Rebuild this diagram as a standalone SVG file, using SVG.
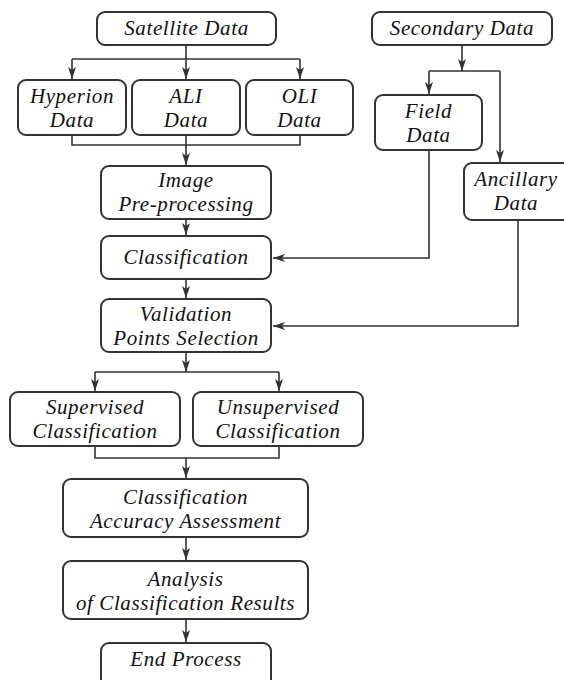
<svg xmlns="http://www.w3.org/2000/svg" width="564" height="680" viewBox="0 0 564 680">
<style>
.box{fill:#fff;stroke:#333;stroke-width:2}
.t{font-family:'Liberation Serif','Times New Roman',serif;font-style:italic;font-size:21px;letter-spacing:0.6px;fill:#111;text-anchor:middle}
.c{fill:none;stroke:#333;stroke-width:1.6}
</style>
<defs>
<marker id="a" markerUnits="userSpaceOnUse" markerWidth="14" markerHeight="10" refX="12" refY="5" orient="auto">
<path d="M0,1 L12,5 L0,9 L3,5 z" fill="#333"/>
</marker>
</defs>
<rect width="564" height="680" fill="#fff"/>
<g id="connectors">
<path class="c" d="M186,45 V79" marker-end="url(#a)"/>
<path class="c" d="M72,59 H300"/>
<path class="c" d="M72,59 V79" marker-end="url(#a)"/>
<path class="c" d="M300,59 V79" marker-end="url(#a)"/>
<path class="c" d="M72,135 V145 H300 V135"/>
<path class="c" d="M186,135 V165" marker-end="url(#a)"/>
<path class="c" d="M186,219 V235" marker-end="url(#a)"/>
<path class="c" d="M186,279 V298" marker-end="url(#a)"/>
<path class="c" d="M462,45 V71" marker-end="url(#a)"/>
<path class="c" d="M429,71 H500"/>
<path class="c" d="M429,71 V94" marker-end="url(#a)"/>
<path class="c" d="M500,71 V162" marker-end="url(#a)"/>
<path class="c" d="M429,150 V258 H273" marker-end="url(#a)"/>
<path class="c" d="M518,220 V326 H273" marker-end="url(#a)"/>
<path class="c" d="M186,352 V372" marker-end="url(#a)"/>
<path class="c" d="M95,372 H279"/>
<path class="c" d="M95,372 V391" marker-end="url(#a)"/>
<path class="c" d="M279,372 V391" marker-end="url(#a)"/>
<path class="c" d="M95,446 V458 H279 V446"/>
<path class="c" d="M186,458 V478" marker-end="url(#a)"/>
<path class="c" d="M186,537 V560" marker-end="url(#a)"/>
<path class="c" d="M186,619 V642" marker-end="url(#a)"/>
</g>
<g id="satellite"><rect class="box" x="97" y="12" width="179" height="33" rx="8"/><text class="t" x="186.5" y="35">Satellite Data</text></g>
<g id="secondary"><rect class="box" x="372" y="12" width="180" height="33" rx="8"/><text class="t" x="462" y="35">Secondary Data</text></g>
<g id="hyperion"><rect class="box" x="18" y="80" width="108" height="55" rx="8"/><text class="t" x="72" y="103">Hyperion</text><text class="t" x="72" y="127">Data</text></g>
<g id="ali"><rect class="box" x="132" y="80" width="108" height="55" rx="8"/><text class="t" x="186" y="103">ALI</text><text class="t" x="186" y="127">Data</text></g>
<g id="oli"><rect class="box" x="246" y="80" width="107" height="55" rx="8"/><text class="t" x="299.5" y="103">OLI</text><text class="t" x="299.5" y="127">Data</text></g>
<g id="field"><rect class="box" x="375" y="95" width="107" height="55" rx="8"/><text class="t" x="428.5" y="118">Field</text><text class="t" x="428.5" y="142">Data</text></g>
<g id="ancillary"><rect class="box" x="464" y="163" width="108" height="57" rx="8"/><text class="t" x="516" y="186">Ancillary</text><text class="t" x="516" y="210">Data</text></g>
<g id="image"><rect class="box" x="101" y="166" width="170" height="53" rx="8"/><text class="t" x="186" y="187">Image</text><text class="t" x="186" y="211">Pre-processing</text></g>
<g id="classification"><rect class="box" x="101" y="236" width="170" height="43" rx="8"/><text class="t" x="186" y="264">Classification</text></g>
<g id="validation"><rect class="box" x="101" y="299" width="170" height="53" rx="8"/><text class="t" x="186" y="321">Validation</text><text class="t" x="186" y="345">Points Selection</text></g>
<g id="supervised"><rect class="box" x="10" y="392" width="170" height="54" rx="8"/><text class="t" x="95" y="414">Supervised</text><text class="t" x="95" y="438">Classification</text></g>
<g id="unsupervised"><rect class="box" x="193" y="392" width="170" height="54" rx="8"/><text class="t" x="278" y="414">Unsupervised</text><text class="t" x="278" y="438">Classification</text></g>
<g id="accuracy"><rect class="box" x="63" y="479" width="245" height="58" rx="8"/><text class="t" x="185.5" y="504">Classification</text><text class="t" x="185.5" y="528">Accuracy Assessment</text></g>
<g id="analysis"><rect class="box" x="63" y="561" width="245" height="58" rx="8"/><text class="t" x="185.5" y="586">Analysis</text><text class="t" x="185.5" y="610">of Classification Results</text></g>
<g id="end"><rect class="box" x="101" y="643" width="170" height="45" rx="8"/><text class="t" x="186" y="666">End Process</text></g>
</svg>
